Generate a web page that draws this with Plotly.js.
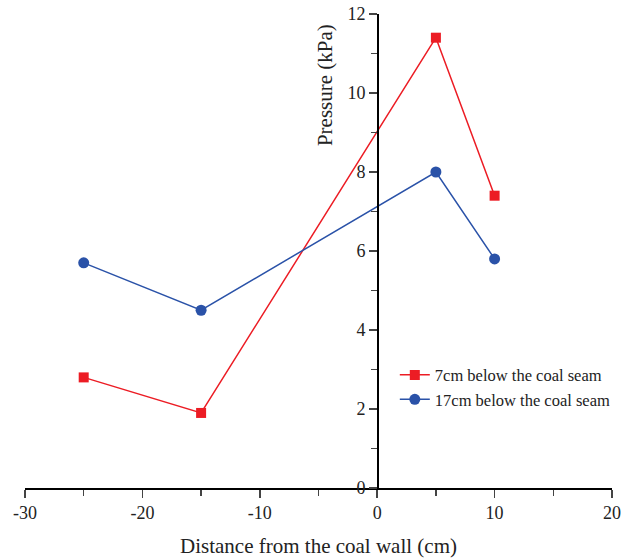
<!DOCTYPE html>
<html><head><meta charset="utf-8">
<script src="https://cdn.plot.ly/plotly-3.0.1.min.js"></script>
<style>body{margin:0;background:#fff}#c{width:632px;height:558px}</style>
</head><body><div id="c"></div>
<script>
const distance = [-25, -15, 5, 10];
const pressure7cm = [2.8, 1.9, 11.4, 7.4];
const pressure17cm = [5.7, 4.5, 8.0, 5.8];
const seriesNames = ["7cm below the coal seam", "17cm below the coal seam"];
const xTickVals = [-30, -20, -10, 0, 10, 20];
const xTickText = ["-30", "-20", "-10", "0", "10", "20"];
const yTickVals = [0, 2, 4, 6, 8, 10, 12];
const yTickText = ["0", "2", "4", "6", "8", "10", "12"];

const font = "Liberation Serif, Times New Roman, serif";
const traces = [
  {x: distance, y: pressure7cm, name: seriesNames[0], mode: "lines+markers",
   line: {color: "#ec1c24", width: 1.5}, marker: {symbol: "square", size: 10, color: "#ec1c24"}},
  {x: distance, y: pressure17cm, name: seriesNames[1], mode: "lines+markers",
   line: {color: "#2a52a8", width: 1.5}, marker: {symbol: "circle", size: 11, color: "#2a52a8"}}
];
const layout = {
  width: 632, height: 558,
  margin: {l: 25, r: 20, t: 14, b: 70},
  paper_bgcolor: "#fff", plot_bgcolor: "#fff",
  font: {family: font, color: "#222", size: 18},
  showlegend: true,
  legend: {x: 0.63, y: 0.275, xanchor: "left", yanchor: "top", font: {family: font, size: 16.5, color: "#222"},
           bgcolor: "rgba(0,0,0,0)", tracegroupgap: 0},
  xaxis: {range: [-30, 20], tickmode: "array", tickvals: xTickVals, ticktext: xTickText,
          ticks: "outside", ticklen: 8, tickwidth: 1.5,
          showgrid: false, zeroline: false, showline: true, linewidth: 1.5, linecolor: "#000",
          minor: {dtick: 5, tick0: 0, ticks: "outside", ticklen: 6, tickwidth: 1.5, showgrid: false},
          tickfont: {family: font, size: 18, color: "#222"},
          title: {text: "Distance from the coal wall (cm)", font: {family: font, size: 21, color: "#222"}, standoff: 16}},
  yaxis: {range: [0, 12], tickmode: "array", tickvals: yTickVals, ticktext: yTickText,
          ticks: "outside", ticklen: 8, tickwidth: 1.5,
          anchor: "free", position: 0.6, side: "left",
          showgrid: false, zeroline: false, showline: true, linewidth: 1.5, linecolor: "#000",
          minor: {dtick: 1, tick0: 0, ticks: "outside", ticklen: 6, tickwidth: 1.5, showgrid: false},
          tickfont: {family: font, size: 18, color: "#222"}},
  annotations: [{text: "Pressure (kPa)", textangle: -90, xref: "paper", yref: "paper",
                 x: 0.511, y: 0.85, xanchor: "center", yanchor: "middle", showarrow: false,
                 font: {family: font, size: 21, color: "#222"}}]
};
Plotly.newPlot("c", traces, layout, {displayModeBar: false, staticPlot: true});
</script></body></html>
